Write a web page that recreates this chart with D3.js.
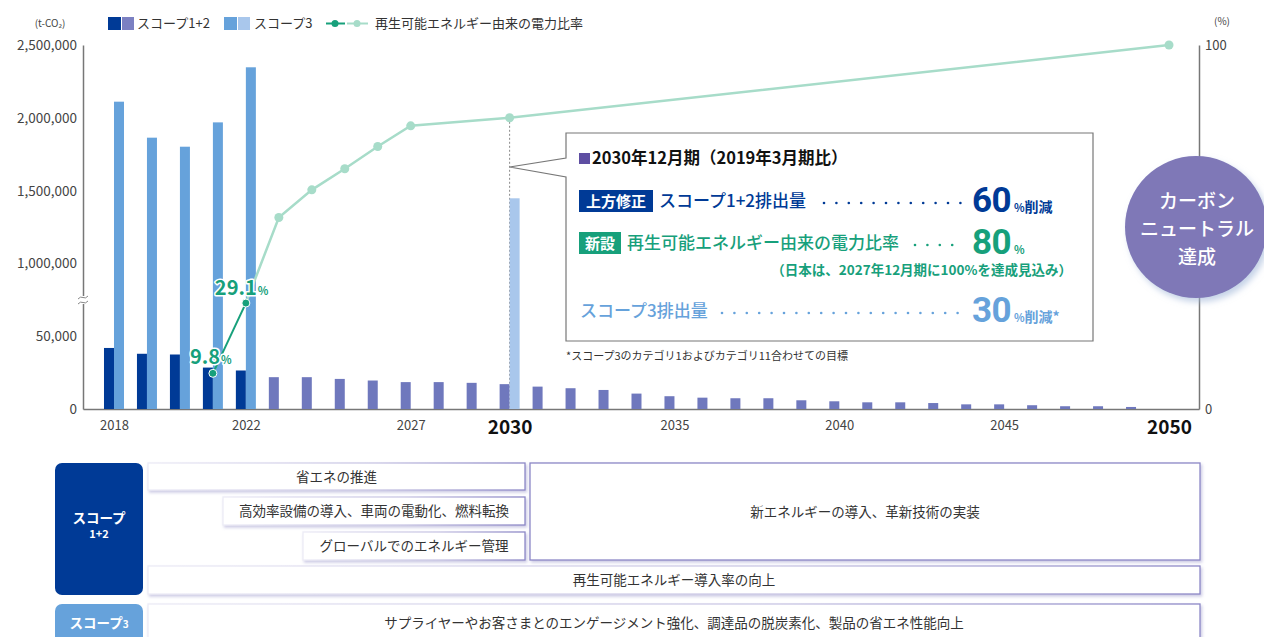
<!DOCTYPE html>
<html><head><meta charset="utf-8">
<script src="https://cdn.jsdelivr.net/npm/d3@7/dist/d3.min.js"></script>
<style>
body{margin:0;background:#fff;}
svg{display:block;font-family:"Noto Sans CJK JP","Noto Sans",sans-serif;}
</style>
</head><body>
<svg id="chart" width="1264" height="637"></svg>
<script>
// ---------------- data ----------------
const years = [2018,2019,2020,2021,2022,2023,2024,2025,2026,2027,2028,2029,2030,2031,2032,2033,2034,2035,2036,2037,2038,2039,2040,2041,2042,2043,2044,2045,2046,2047,2048,2049,2050];
const scope12 = [42000,38000,37500,28500,26500,21900,21900,20700,19600,18500,18500,18000,17100,15400,14300,13100,10600,8800,7800,7400,7400,6000,5300,4600,4600,4100,3200,3200,2600,1900,1900,1400,0];
const scope3Years = [2018,2019,2020,2021,2022,2030];
const scope3 = [2111000,1864000,1802000,1969000,2347000,1448000];
const ratioActualYears = [2021,2022];
const ratioActual = [9.8,29.1];
const ratioPlanYears = [2022,2023,2024,2025,2026,2027,2030,2050];
const ratioPlan = [29.1,52.6,60.2,66.0,72.1,77.8,80,100];
const yTicks = [0,50000,1000000,1500000,2000000,2500000];
const yRightTicks = [0,100];
const xTickYears = [2018,2022,2027,2030,2035,2040,2045,2050];
const boldYears = [2030,2050];
const legendItems = ["スコープ1+2","スコープ3","再生可能エネルギー由来の電力比率"];
const scope12Measures = ["省エネの推進","高効率設備の導入、車両の電動化、燃料転換","グローバルでのエネルギー管理","新エネルギーの導入、革新技術の実装","再生可能エネルギー導入率の向上"];
const scope3Measures = ["サプライヤーやお客さまとのエンゲージメント強化、調達品の脱炭素化、製品の省エネ性能向上"];

// ---------------- setup ----------------
const C = {dark:"#003a96", plan:"#6f78bd", s3:"#66a2db", s3plan:"#a9c7ec",
  green:"#17a07b", lgreen:"#a7dcc9", axis:"#777", text:"#444", box:"#8c87c6"};
const svg = d3.select("#chart");
const defs = svg.append("defs");
const f = defs.append("filter").attr("id","sh").attr("x","-10%").attr("y","-20%").attr("width","130%").attr("height","160%");
f.append("feDropShadow").attr("dx",1.5).attr("dy",2).attr("stdDeviation",1.6).attr("flood-color","#8d89c4").attr("flood-opacity",0.45);
const f2 = defs.append("filter").attr("id","csh").attr("x","-20%").attr("y","-20%").attr("width","150%").attr("height","150%");
f2.append("feDropShadow").attr("dx",3).attr("dy",4).attr("stdDeviation",3).attr("flood-color","#9fb6d8").attr("flood-opacity",0.6);
const g1 = defs.append("linearGradient").attr("id","bg").attr("x1","0").attr("x2","1");
g1.append("stop").attr("offset","0").attr("stop-color","#ecebf6");
g1.append("stop").attr("offset","0.6").attr("stop-color","#c9c6e4");
g1.append("stop").attr("offset","1").attr("stop-color",C.box);

const x = d3.scaleLinear().domain([2017.06, 2050.91]).range([83, 1199]);
const y = d3.scaleLinear().domain([0, 75000, 750000, 2500000]).range([409, 300, 300, 45]);
const yR = d3.scaleLinear().domain([0, 100]).range([409, 45]);
const BW = 10;

// axes
const ax = svg.append("g").attr("transform","translate(83,0)")
  .call(d3.axisLeft(y).tickValues(yTicks).tickSize(0).tickPadding(6).tickFormat(d3.format(",")));
ax.select(".domain").attr("stroke",C.axis).attr("stroke-width",1.5);
ax.selectAll("text").attr("font-size",13.5).attr("fill",C.text).attr("font-family","Noto Sans CJK JP");

const axR = svg.append("g").attr("transform","translate(1199,0)")
  .call(d3.axisRight(yR).tickValues(yRightTicks).tickSize(0).tickPadding(6));
axR.select(".domain").attr("stroke",C.axis).attr("stroke-width",1.5);
axR.selectAll("text").attr("font-size",13).attr("fill",C.text).attr("font-family","Noto Sans CJK JP");

const axB = svg.append("g").attr("transform","translate(0,409)")
  .call(d3.axisBottom(x).tickValues(xTickYears).tickSize(0).tickPadding(12).tickSizeOuter(0).tickFormat(d3.format("d")));
axB.select(".domain").attr("stroke",C.axis).attr("stroke-width",1.5);
axB.selectAll("text").attr("font-family","Noto Sans CJK JP")
  .attr("font-size",d=>boldYears.includes(d)?19:13)
  .attr("font-weight",d=>boldYears.includes(d)?700:400)
  .attr("fill",d=>boldYears.includes(d)?"#111":C.text);

// axis break
svg.append("rect").attr("x",80).attr("y",296).attr("width",6).attr("height",8).attr("fill","#fff");
[-2.5,2.5].forEach(o=>svg.append("path")
  .attr("d",`M78,${300+o+1.5} q2.5,-3 5,-1.5 t5,-1.5`).attr("fill","none").attr("stroke","#888").attr("stroke-width",1));

svg.append("text").attr("x",50).attr("y",27).attr("text-anchor","middle").attr("font-size",10).attr("fill",C.text).text("(t-CO₂)");
svg.append("text").attr("x",1222).attr("y",25).attr("text-anchor","middle").attr("font-size",10).attr("fill",C.text).text("(%)");

// 2030 dashed guide
svg.append("line").attr("x1",x(2030)).attr("x2",x(2030)).attr("y1",yR(80)).attr("y2",409)
  .attr("stroke","#8a8a8a").attr("stroke-dasharray","2,2").attr("stroke-width",1);

// bars scope 1+2
svg.append("g").selectAll("rect").data(years.map((yr,i)=>({yr,v:scope12[i]}))).join("rect")
  .attr("x",d=>x(d.yr)-BW).attr("width",BW)
  .attr("y",d=>y(d.v)).attr("height",d=>409-y(d.v))
  .attr("fill",d=>d.yr<=2022?C.dark:C.plan);
// bars scope 3
svg.append("g").selectAll("rect").data(scope3Years.map((yr,i)=>({yr,v:scope3[i]}))).join("rect")
  .attr("x",d=>x(d.yr)).attr("width",BW)
  .attr("y",d=>y(d.v)).attr("height",d=>409-y(d.v))
  .attr("fill",d=>d.yr<=2022?C.s3:C.s3plan);

// lines
const line = d3.line().x(d=>x(d[0])).y(d=>yR(d[1]));
const plan = ratioPlanYears.map((yr,i)=>[yr,ratioPlan[i]]);
const act = ratioActualYears.map((yr,i)=>[yr,ratioActual[i]]);
svg.append("path").attr("d",line(plan)).attr("fill","none").attr("stroke",C.lgreen).attr("stroke-width",2.5);
svg.append("g").selectAll("circle").data(plan.slice(1)).join("circle")
  .attr("cx",d=>x(d[0])).attr("cy",d=>yR(d[1])).attr("r",4.5).attr("fill",C.lgreen);
svg.append("path").attr("d",line(act)).attr("fill","none").attr("stroke",C.green).attr("stroke-width",2);
svg.append("g").selectAll("circle").data(act).join("circle")
  .attr("cx",d=>x(d[0])).attr("cy",d=>yR(d[1])).attr("r",4).attr("fill",C.green).attr("stroke","#fff").attr("stroke-width",1);
// value labels
const lab = svg.append("g").selectAll("text").data(act).join("text")
  .attr("x",(d,i)=>x(d[0])-(i?31:23)).attr("y",(d,i)=>yR(d[1])-(i?8:9))
  .attr("fill",C.green).attr("font-weight",700).attr("font-family","Noto Sans CJK JP")
  .attr("stroke","#fff").attr("stroke-width",3).attr("paint-order","stroke").attr("stroke-linejoin","round");
lab.append("tspan").attr("font-size",20).text(d=>d[1]);
lab.append("tspan").attr("font-size",11).attr("dx",1).text("%");

// legend
const lg = svg.append("g").attr("font-size",13).attr("fill","#333");
lg.append("rect").attr("x",108).attr("y",17).attr("width",13).attr("height",13).attr("fill",C.dark);
lg.append("rect").attr("x",122).attr("y",17).attr("width",12).attr("height",13).attr("fill","#7b80c2");
lg.append("text").attr("x",137).attr("y",28).text(legendItems[0]);
lg.append("rect").attr("x",224).attr("y",17).attr("width",13).attr("height",13).attr("fill",C.s3);
lg.append("rect").attr("x",238).attr("y",17).attr("width",12).attr("height",13).attr("fill",C.s3plan);
lg.append("text").attr("x",254).attr("y",28).text(legendItems[1]);
lg.append("line").attr("x1",326).attr("x2",345).attr("y1",23.5).attr("y2",23.5).attr("stroke",C.green).attr("stroke-width",2);
lg.append("circle").attr("cx",335).attr("cy",23.5).attr("r",3.5).attr("fill",C.green);
lg.append("line").attr("x1",347).attr("x2",368).attr("y1",23.5).attr("y2",23.5).attr("stroke",C.lgreen).attr("stroke-width",2);
lg.append("circle").attr("cx",357).attr("cy",23.5).attr("r",3.5).attr("fill",C.lgreen);
lg.append("text").attr("x",375).attr("y",28).text(legendItems[2]);

// callout box
const ax30 = x(2030);
svg.append("path")
  .attr("d",`M566,133 H1093 V341 H566 V177 L${ax30},167 L566,158 Z`)
  .attr("fill","#fff").attr("stroke","#777").attr("stroke-width",1.2);
const co = svg.append("g");
co.append("rect").attr("x",579).attr("y",153).attr("width",11).attr("height",11).attr("fill","#5e4ea2");
co.append("text").attr("x",592).attr("y",164).attr("font-size",16.5).attr("font-weight",700).attr("fill","#111")
  .text("2030年12月期（2019年3月期比）");
function row(yc, tag, tagColor, tagW, label, color, dotsFrom, num, unit, unit2){
  if(tag){
    co.append("rect").attr("x",579).attr("y",yc-11).attr("width",tagW).attr("height",22).attr("fill",tagColor);
    co.append("text").attr("x",579+tagW/2).attr("y",yc+5.5).attr("text-anchor","middle").attr("font-size",15)
      .attr("font-weight",700).attr("fill","#fff").text(tag);
  }
  co.append("text").attr("x",tag?579+tagW+6:580).attr("y",yc+6).attr("font-size",17).attr("font-weight",500).attr("fill",color).text(label);
  co.append("g").selectAll("circle").data(d3.range(dotsFrom,962,12.4)).join("circle")
    .attr("cx",d=>d).attr("cy",yc+2).attr("r",1.3).attr("fill",color);
  co.append("text").attr("x",972).attr("y",yc+11).attr("fill",color).attr("font-weight",700)
    .attr("font-family","Roboto").attr("font-size",35).attr("letter-spacing",-0.5).text(num);
  const t = co.append("text").attr("x",1014).attr("y",yc+11).attr("fill",color).attr("font-weight",700);
  t.append("tspan").attr("font-size",11).text(unit);
  if(unit2) t.append("tspan").attr("font-size",14).text(unit2);
}
row(201,"上方修正",C.dark,74,"スコープ1+2排出量",C.dark,824,"60","%","削減");
row(243,"新設",C.green,42,"再生可能エネルギー由来の電力比率",C.green,915,"80","%",null);
co.append("text").attr("x",1072).attr("y",275).attr("text-anchor","end").attr("font-size",13.5).attr("font-weight",700)
  .attr("fill",C.green).text("（日本は、2027年12月期に100%を達成見込み）");
row(311,null,null,0,"スコープ3排出量",C.s3,722,"30","%","削減*");
svg.append("text").attr("x",566).attr("y",360).attr("font-size",11).attr("fill","#333")
  .text("*スコープ3のカテゴリ1およびカテゴリ11合わせての目標");

// carbon neutral circle
svg.append("circle").attr("cx",1196).attr("cy",227).attr("r",71).attr("fill","#7f78b7").attr("filter","url(#csh)");
svg.append("g").attr("fill","#fff").attr("font-size",19).attr("font-weight",500).attr("text-anchor","middle")
  .selectAll("text").data(["カーボン","ニュートラル","達成"]).join("text")
  .attr("x",1197).attr("y",(d,i)=>208+i*28).text(d=>d);

// measures table
const tb = svg.append("g");
tb.append("rect").attr("x",55).attr("y",463).attr("width",88).attr("height",132).attr("rx",7).attr("fill",C.dark);
tb.append("text").attr("x",99).attr("y",523).attr("text-anchor","middle").attr("fill","#fff").attr("font-size",13.5).attr("font-weight",700).text("スコープ");
tb.append("text").attr("x",99).attr("y",538).attr("text-anchor","middle").attr("fill","#fff").attr("font-size",11).attr("font-weight",700).text("1+2");
tb.append("rect").attr("x",55).attr("y",604).attr("width",88).attr("height",50).attr("rx",7).attr("fill",C.s3);
const s3l = tb.append("text").attr("x",99).attr("y",628).attr("text-anchor","middle").attr("fill","#fff").attr("font-weight",700);
s3l.append("tspan").attr("font-size",13.5).text("スコープ");
s3l.append("tspan").attr("font-size",10).text("3");
const boxes = [
  {x0:148,x1:525,y0:463,y1:490},
  {x0:223,x1:525,y0:497,y1:525},
  {x0:303,x1:525,y0:532,y1:560},
  {x0:530,x1:1200,y0:463,y1:560},
  {x0:148,x1:1200,y0:566,y1:594},
  {x0:148,x1:1200,y0:604,y1:660}
];
const labels = scope12Measures.concat(scope3Measures);
boxes.forEach((b,i)=>{
  tb.append("rect").attr("x",b.x0).attr("y",b.y0).attr("width",b.x1-b.x0).attr("height",b.y1-b.y0)
    .attr("fill","#fff").attr("stroke",i===3?C.box:"url(#bg)").attr("stroke-width",1.3).attr("filter","url(#sh)");
  tb.append("text").attr("x",(b.x0+b.x1)/2).attr("y",i===5?628:(b.y0+b.y1)/2+5).attr("text-anchor","middle")
    .attr("font-size",13.5).attr("fill","#333").text(labels[i]);
});
</script>
</body></html>
